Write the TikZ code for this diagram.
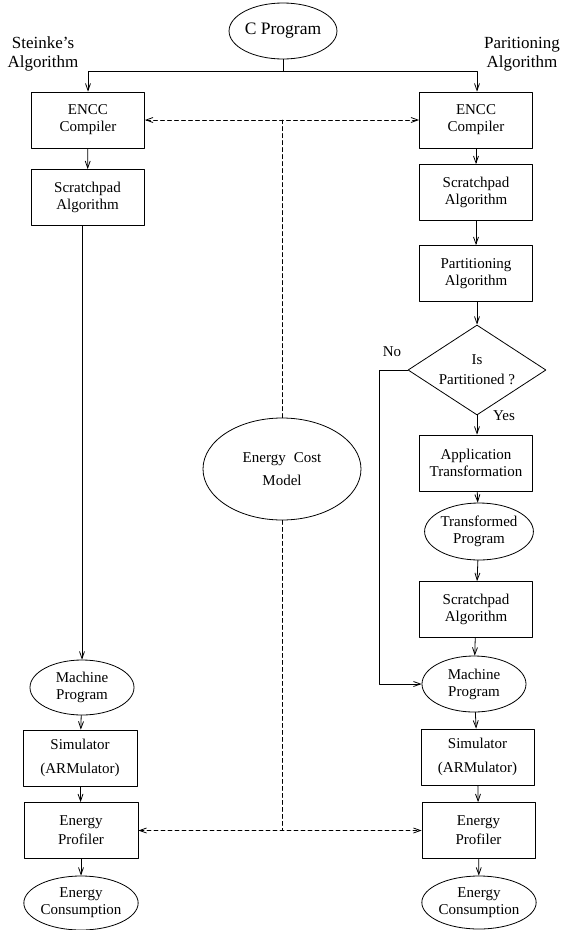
\documentclass[tikz,border=0pt]{standalone}
\usepackage{fontspec}
\setmainfont{Liberation Serif}
\usetikzlibrary{arrows.meta,shapes.geometric}
\tikzset{
    txt/.style={
        font=\fontsize{15}{17}\selectfont, align=center
    },
    sidelab/.style={
        font=\fontsize{17}{19}\selectfont, align=center
    },
    box/.style={
        txt, draw, rectangle, inner sep=0pt,
        minimum width=113pt, minimum height=56pt
    },
    oval/.style={
        txt, draw, ellipse, inner sep=0pt,
        minimum width=104pt, minimum height=56pt
    },
    arr/.style={
        ->, >={Straight Barb[length=7pt,width=5pt]}
    },
    dsh/.style={
        dash pattern=on 4pt off 3pt
    }
}

\begin{document}
\begin{tikzpicture}[x=1pt,y=-1pt,line width=0.8pt,line cap=round,line join=round]

\useasboundingbox (0,0) rectangle (563,930);

% start and side titles
\node[oval, font=\fontsize{17.5}{19}\selectfont, minimum height=56pt] (cprog) at (283,31) {C Program};
\node[sidelab] (steinke) at (43,54) {Steinke's\\Algorithm};
\node[sidelab] (pari) at (522,54) {Paritioning\\Algorithm};
\coordinate (split) at (283,71);

% left column: Steinke's flow
\node[box] (lencc) at (88,120) {ENCC\\Compiler};
\node[box] (lscratch) at (87.5,197.5) {Scratchpad\\Algorithm};
\node[oval, minimum height=55pt] (lmach) at (82,687.5) {Machine\\Program};
\node[box, minimum width=114pt] (lsim) at (80,758) {Simulator\\[7pt](ARMulator)};
\node[box, minimum width=114pt] (lprof) at (81,830.5) {Energy\\[2pt]Profiler};
\node[oval, minimum height=54pt] (lcons) at (81,903) {Energy\\Consumption};

% right column: partitioning flow
\node[box] (rencc) at (476,120) {ENCC\\Compiler};
\node[box] (rscratch) at (476,192.5) {Scratchpad\\Algorithm};
\node[box] (rpart) at (476,273.5) {Partitioning\\Algorithm};
\node[txt, draw, diamond, aspect=1.53, inner sep=0pt,
      minimum width=138pt, minimum height=90pt] (isdiam) at (477,370) {Is\\[3pt]Partitioned ?};
\node[box] (rapp) at (476,463) {Application\\Transformation};
\node[oval, minimum width=105pt, minimum height=57pt] (rtrans) at (479,531.5) {Transformed\\Program};
\node[box] (rscratchb) at (476,609.5) {Scratchpad\\Algorithm};
\node[oval] (rmach) at (474,684) {Machine\\Program};
\node[box] (rsim) at (477.5,757) {Simulator\\[7pt](ARMulator)};
\node[box] (rprof) at (478.5,830.5) {Energy\\[2pt]Profiler};
\node[oval, minimum height=53pt] (rcons) at (479,902.5) {Energy\\Consumption};

% shared cost model in the middle
\node[txt, draw, ellipse, inner sep=0pt, minimum width=158pt, minimum height=102pt] (cost) at (282,469)
  {Energy\hspace{8pt}Cost\\[6pt]Model};

% branch labels
\node[txt] (nolab) at (392,352) {No};
\node[txt] (yeslab) at (504,416) {Yes};

% fork from the C program
\draw (cprog.south) -- (split);
\draw[arr] (split) -| (lencc.north);
\draw[arr] (split) -| (isdiam.north |- rencc.north);

% left chain
\draw[arr] (lencc) -- (lscratch);
\draw[arr] (lscratch.south -| lmach.north) -- (lmach.north);
\draw[arr] (lmach) -- (lsim);
\draw[arr] (lsim) -- (lprof);
\draw[arr] (lprof) -- (lcons);

% right chain
\draw[arr] (rencc) -- (rscratch);
\draw[arr] (rscratch) -- (rpart);
\draw[arr] (rpart.south -| isdiam.north) -- (isdiam.north);
\draw[arr] (isdiam.south) -- (isdiam.south |- rapp.north);
\draw[arr] (rapp) -- (rtrans);
\draw[arr] (rtrans) -- (rscratchb);
\draw[arr] (rscratchb) -- (rmach);
\draw[arr] (rmach) -- (rsim);
\draw[arr] (rsim) -- (rprof);
\draw[arr] (rprof) -- (rcons);

% the "No" branch skips the transformation
\draw[arr] (isdiam.west) -- ++(-28,0) |- (rmach.west);

% dashed links to the cost model
\draw[dsh, arr, <->] (lencc.east) -- (rencc.west);
\draw[dsh] (cost.north) -- (cost.north |- lencc.east);
\draw[dsh, arr, <->] (lprof.east) -- (rprof.west);
\draw[dsh] (cost.south) -- (cost.south |- lprof.east);

\end{tikzpicture}
\end{document}
